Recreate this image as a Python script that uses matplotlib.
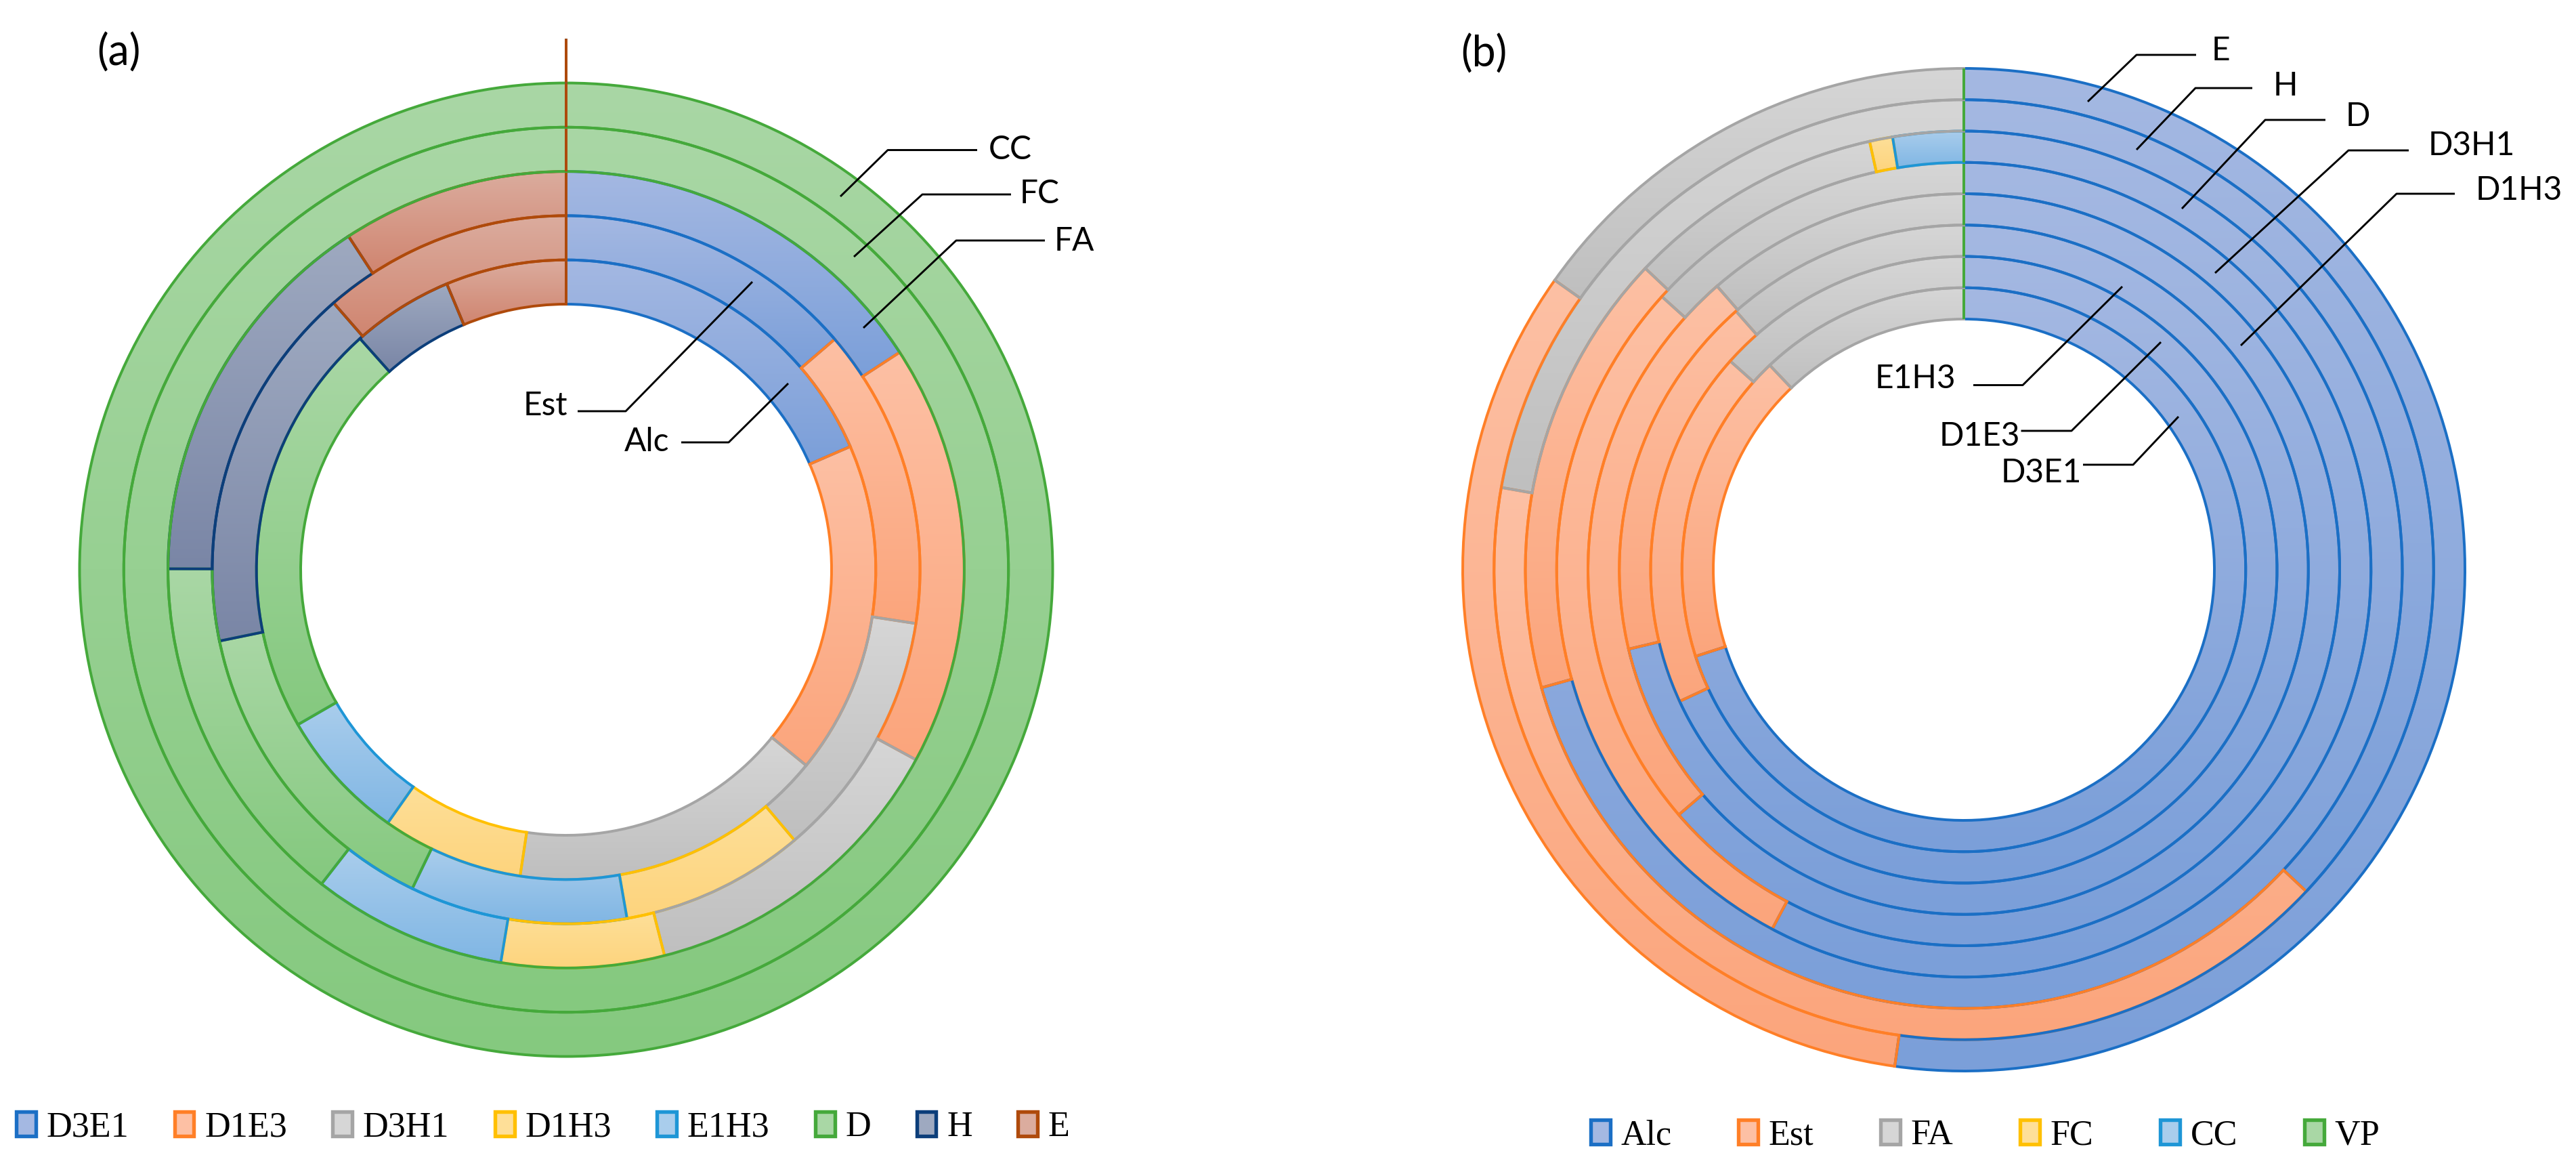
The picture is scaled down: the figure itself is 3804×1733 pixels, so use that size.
import numpy as np
import matplotlib
matplotlib.use('Agg')
import matplotlib.pyplot as plt
from matplotlib.colors import to_rgba
from matplotlib.patches import Patch

plt.rcParams['font.family'] = ['Lato', 'DejaVu Sans']

systems = ['D3E1', 'D1E3', 'D3H1', 'D1H3', 'E1H3', 'D', 'H', 'E']
groups = ['Alc', 'Est', 'FA', 'FC', 'CC', 'VP']

# (a) share (%) of every system inside each group ring, inner ring first
alc_a = [18.5, 17.4, 16.5, 7.4, 6.9, 21.75, 5.3, 6.3]
est_a = [13.7, 13.7, 11.4, 8.4, 9.9, 14.6, 16.8, 11.4]
fa_a = [15.8, 17.1, 13.1, 6.6, 7.9, 14.5, 15.75, 9.2]
fc_a = [0, 0, 0, 0, 0, 100, 0, 0]
cc_a = [0, 0, 0, 0, 0, 100, 0, 0]
vp_a = [0, 0, 0, 0, 0, 0, 0, 0]
rings_a = [alc_a, est_a, fa_a, fc_a, cc_a, vp_a]

# (b) share (%) of every group inside each system ring, inner ring first
ring_names_b = ['D3E1', 'D1E3', 'E1H3', 'D1H3', 'D3H1', 'D', 'H', 'E']
d3e1_b = [70.1, 17.9, 12.1, 0, 0, 0]
d1e3_b = [68.1, 18.5, 13.4, 0, 0, 0]
e1h3_b = [71.3, 17.2, 11.5, 0, 0, 0]
d1h3_b = [63.7, 24.9, 11.4, 0, 0, 0]
d3h1_b = [57.8, 28.9, 13.3, 0, 0, 0]
d_b = [70.7, 16.4, 9.5, 0.85, 2.6, 0]
h_b = [37.0, 40.8, 22.2, 0, 0, 0]
e_b = [52.2, 32.6, 15.2, 0, 0, 0]
rings_b = [d3e1_b, d1e3_b, e1h3_b, d1h3_b, d3h1_b, d_b, h_b, e_b]

fill_top = ['#A4B8E2', '#FDC0A4', '#D6D6D6', '#FEDF98', '#A9CDEC', '#A9D7A5', '#9EA9C0', '#DBAC9E']
fill_bot = ['#7B9FD9', '#FBA57C', '#BFBFBF', '#FDD47D', '#80B6E4', '#85C97F', '#7A86A6', '#D08570']
edges = ['#1B6FC5', '#FF7F27', '#A5A5A5', '#FFC000', '#1E96D6', '#45A93B', '#0C3E7A', '#AF4A0B']


def grad(k, n=128):
    c1 = np.array(to_rgba(fill_top[k]))
    c2 = np.array(to_rgba(fill_bot[k]))
    t = np.linspace(0, 1, n)[:, None]
    return (c1 + (c2 - c1) * t)[:, None, :]


def rings(ax, data, hole, width):
    for i, vals in enumerate(data):
        vals = np.asarray(vals, float)
        wedges, _ = ax.pie(vals, radius=hole + width * (i + 1), startangle=90,
                           counterclock=False, normalize=bool(vals.sum() > 0),
                           wedgeprops=dict(width=width, linewidth=0.95, facecolor='none'))
        for k, w in enumerate(wedges):
            w.set_edgecolor(edges[k])
            if vals[k] > 0:
                bb = w.get_path().get_extents()
                im = ax.imshow(grad(k), extent=(bb.x0, bb.x1, bb.y0, bb.y1),
                               aspect='auto', interpolation='bilinear', zorder=0.5)
                im.set_clip_path(w)


def callout(ax, pts, text, tx, ty, ha):
    pts = np.array(pts)
    ax.plot(pts[:, 0], pts[:, 1], color='black', lw=0.7, solid_capstyle='butt', zorder=3)
    ax.text(tx, ty, text, ha=ha, va='center', fontsize=11.5, color='black', zorder=3)


W, H = 3804, 1733
fig = plt.figure(figsize=(W / 300, H / 300), dpi=300)

# panel (a): one data unit = one output pixel, centre of the rings at the origin
ax_a = fig.add_axes([0, 0, 0.5, 1])
rings(ax_a, rings_a, 392, 65.3)
ax_a.set_xlim(-836, 1066)
ax_a.set_ylim(-892, 841)
ax_a.set_aspect('auto')
ax_a.axis('off')
callout(ax_a, [(607, 619.5), (475, 619.5), (405, 551)], 'CC', 624, 620, 'left')
callout(ax_a, [(657, 554), (526, 554), (425, 462)], 'FC', 670, 555, 'left')
callout(ax_a, [(707, 486), (576, 486), (439, 357)], 'FA', 721, 485, 'left')
callout(ax_a, [(17, 234), (88, 234), (275, 425)], 'Est', 2, 242, 'right')
callout(ax_a, [(170, 188), (240, 188), (328, 275)], 'Alc', 152, 189, 'right')
ax_a.text(-693, 763, '(a)', fontsize=15, ha='left', va='center')

# panel (b)
ax_b = fig.add_axes([0.5, 0, 0.5, 1])
rings(ax_b, rings_b, 370, 46.25)
ax_b.set_xlim(-998, 904)
ax_b.set_ylim(-892, 841)
ax_b.set_aspect('auto')
ax_b.axis('off')
callout(ax_b, [(343, 760), (255, 760), (183, 691)], 'E', 366, 766, 'left')
callout(ax_b, [(426, 711), (342, 711), (255, 620)], 'H', 457, 714, 'left')
callout(ax_b, [(534, 664), (445, 664), (322, 533)], 'D', 564, 669, 'left')
callout(ax_b, [(657, 619), (568, 619), (371, 438)], 'D3H1', 686, 626, 'left')
callout(ax_b, [(725, 555), (639, 555), (409, 331)], 'D1H3', 756, 560, 'left')
callout(ax_b, [(14, 272.5), (87, 272.5), (234, 418)], 'E1H3', -12, 282, 'right')
callout(ax_b, [(84.5, 205), (159, 205), (291, 336)], 'D1E3', 83, 197, 'right')
callout(ax_b, [(176, 155), (250, 155), (317, 226)], 'D3E1', 174, 143, 'right')
ax_b.text(-743, 761, '(b)', fontsize=15, ha='left', va='center')

leg_font = dict(family='Liberation Serif', size=12.5)
hd_a = [Patch(facecolor=fill_top[k], edgecolor=edges[k], linewidth=1.3, joinstyle='round')
        for k in range(len(systems))]
fig.legend(hd_a, systems, loc='center left', bbox_to_anchor=(24 / W, (H - 1664) / H),
           ncol=len(systems), frameon=False, prop=leg_font, handlelength=0.55,
           handleheight=0.7, handletextpad=0.3, columnspacing=1.3, borderpad=0,
           borderaxespad=0)
hd_b = [Patch(facecolor=fill_top[k], edgecolor=edges[k], linewidth=1.3, joinstyle='round')
        for k in range(len(groups))]
fig.legend(hd_b, groups, loc='center left', bbox_to_anchor=(2349 / W, (H - 1676) / H),
           ncol=len(groups), frameon=False, prop=leg_font, handlelength=0.55,
           handleheight=0.7, handletextpad=0.3, columnspacing=1.9, borderpad=0,
           borderaxespad=0)

fig.savefig('out.png', dpi=300, facecolor='white')
